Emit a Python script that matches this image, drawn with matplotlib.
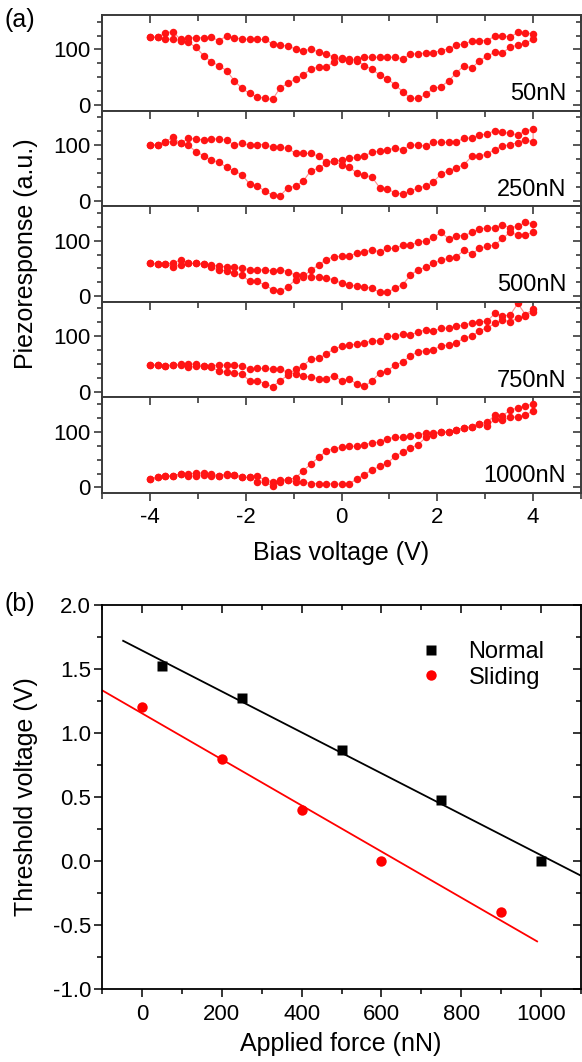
import matplotlib
matplotlib.use("Agg")
import matplotlib.pyplot as plt
from matplotlib.ticker import MultipleLocator, FormatStrFormatter
import numpy as np

plt.rcParams['font.family'] = ['Liberation Sans', 'DejaVu Sans']

# ---------------- data (a) ----------------
bias = [-4.00, -3.84, -3.68, -3.52, -3.36, -3.20, -3.04, -2.88, -2.72, -2.56,
        -2.40, -2.24, -2.08, -1.92, -1.76, -1.60, -1.44, -1.28, -1.12, -0.96,
        -0.80, -0.64, -0.48, -0.32, -0.16, 0.00, 0.16, 0.32, 0.48, 0.64,
        0.80, 0.96, 1.12, 1.28, 1.44, 1.60, 1.76, 1.92, 2.08, 2.24,
        2.40, 2.56, 2.72, 2.88, 3.04, 3.20, 3.36, 3.52, 3.68, 3.84, 4.00]

panel_labels = ['50nN', '250nN', '500nN', '750nN', '1000nN']

# forward sweep (-4 -> 4) and backward sweep (values listed from -4 to 4)
fwd_50 = [122,122,130,132,118,121,121,121,122,116, 124,121,119,118,118,118,110,108,106,101,
          98,100,96,92,86,83,82,80,71,64, 54,47,36,24,12,12,19,30,33,44,
          58,71,66,80,88,95,94,104,108,112,118]
bwd_50 = [122,122,119,118,116,113,104,89,78,71, 62,44,30,21,15,12,10,31,39,47,
          54,65,68,68,78,84,80,83,86,86, 86,86,86,83,92,92,94,94,98,101,
          108,110,115,116,116,124,125,122,131,130,128]

fwd_250 = [100,100,106,114,103,112,111,109,111,111, 109,100,103,100,101,101,96,96,94,85,
           85,85,80,70,71,65,60,50,46,42, 23,21,14,12,17,23,26,34,48,54,
           59,65,80,80,84,92,98,101,104,110,105]
bwd_250 = [100,100,106,106,103,100,88,81,73,69, 60,53,47,30,27,17,10,9,23,26,
           35,54,58,67,71,73,76,78,81,87, 89,92,94,92,100,100,98,106,105,105,
           106,112,113,118,120,126,123,121,118,126,128]

fwd_500 = [60,58,58,60,65,59,59,58,56,54, 53,52,50,48,48,47,46,48,44,38,
           38,35,35,32,30,23,21,18,17,14, 7,7,15,21,38,48,52,59,65,68,
           71,83,76,86,90,92,104,115,110,110,115]
bwd_500 = [60,58,58,53,56,59,59,58,52,47, 46,41,38,27,27,20,12,9,17,30,
           35,47,56,66,71,72,72,78,80,83, 80,86,86,92,92,97,100,106,115,103,
           109,109,115,121,123,123,129,123,126,133,130]

fwd_750 = [48,48,47,48,50,50,50,46,47,48, 48,48,46,41,42,42,41,41,35,32,
           29,26,24,24,29,20,23,14,10,20, 34,38,48,54,65,72,74,76,83,84,
           88,97,100,110,115,123,129,126,133,137,144]
bwd_750 = [48,48,47,48,48,44,46,46,44,38, 35,34,32,20,20,15,9,20,30,41,
           47,59,60,68,77,82,84,86,88,92, 92,100,100,104,103,107,112,110,114,115,
           118,120,124,126,127,141,137,138,159,139,149]

fwd_1000 = [15,18,20,21,24,20,21,23,21,21, 23,23,18,18,20,14,10,14,14,9,
            10,7,7,7,6,6,7,15,23,32, 38,44,56,64,71,77,90,94,100,100,
            104,107,109,115,110,123,121,126,127,130,138]
bwd_1000 = [15,18,20,21,24,24,26,26,24,21, 24,23,18,18,10,9,3,9,14,17,
            30,42,54,65,70,72,74,74,77,80, 82,88,90,90,92,94,98,98,100,100,
            104,107,109,115,117,130,129,139,143,147,150]

forward = [fwd_50, fwd_250, fwd_500, fwd_750, fwd_1000]
backward = [bwd_50, bwd_250, bwd_500, bwd_750, bwd_1000]

# ---------------- data (b) ----------------
normal_force = [50, 250, 500, 750, 1000]
normal_vth = [1.52, 1.27, 0.87, 0.48, 0.0]
sliding_force = [0, 200, 400, 600, 900]
sliding_vth = [1.2, 0.8, 0.4, 0.0, -0.4]
normal_fit = [1.645, -0.0016]      # intercept, slope
normal_fit_range = [-47, 1100]
sliding_fit = [1.154, -0.0018]
sliding_fit_range = [-100, 990]

# ---------------- figure ----------------
W, H = 582, 1062
fig = plt.figure(figsize=(W / 100, H / 100), dpi=100)

def fx(px):
    return px / W

def fy(py):
    return 1 - py / H

left_px, right_px = 102, 581
a_top, a_bot = 15, 493
ph = (a_bot - a_top) / 5.0

tick_fs = 16
label_fs = 18
spine_col = '#3a3a3a'
dot_col = '#ff1414'
line_col = '#ff8c8c'

axes_a = []
for k in range(5):
    top = a_top + k * ph
    bot = top + ph
    ax = fig.add_axes([fx(left_px), fy(bot), fx(right_px - left_px), ph / H])
    axes_a.append(ax)
    xs = bias + bias[::-1]
    ys = forward[k] + backward[k][::-1]
    ax.plot(xs, ys, '-', color=line_col, lw=0.8, zorder=1)
    ax.plot(xs, ys, 'o', color=dot_col, ms=5.4, mec='none', zorder=2)
    ax.set_xlim(-5, 5)
    ax.set_ylim(-10, 162)
    ax.xaxis.set_major_locator(MultipleLocator(2))
    ax.xaxis.set_minor_locator(MultipleLocator(1))
    ax.yaxis.set_major_locator(MultipleLocator(100))
    ax.yaxis.set_minor_locator(MultipleLocator(25))
    for s in ax.spines.values():
        s.set_color(spine_col)
        s.set_linewidth(1.4)
    ax.tick_params(axis='y', which='both', left=True, right=True,
                   labelleft=True, labelright=False, direction='out',
                   color=spine_col, width=1.2, labelsize=tick_fs, pad=2)
    ax.tick_params(axis='y', which='major', length=6)
    ax.tick_params(axis='y', which='minor', length=3.5)
    for t in ax.yaxis.get_major_ticks() + ax.yaxis.get_minor_ticks():
        t.tick2line.set_marker(0)  # right ticks pointing inward
    if k == 4:
        ax.tick_params(axis='x', which='both', bottom=True, top=True,
                       labelbottom=True, direction='out', color=spine_col,
                       width=1.2, labelsize=tick_fs, pad=4)
        ax.tick_params(axis='x', which='major', length=6)
        ax.tick_params(axis='x', which='minor', length=4)
        for t in ax.xaxis.get_major_ticks() + ax.xaxis.get_minor_ticks():
            t.tick2line.set_marker(3)  # top ticks pointing inward
    else:
        ax.tick_params(axis='x', which='both', bottom=False, top=True,
                       labelbottom=False, direction='in', color=spine_col,
                       width=1.2)
        ax.tick_params(axis='x', which='major', length=6)
        ax.tick_params(axis='x', which='minor', length=4)
    ax.text(0.969, 0.11, panel_labels[k], transform=ax.transAxes,
            ha='right', va='baseline', fontsize=17)

axes_a[4].set_xticks([-4, -2, 0, 2, 4])
axes_a[4].set_xticklabels(['-4', '-2', '0', '2', '4'])

fig.text(fx(341.5), fy(553), 'Bias voltage (V)', ha='center', va='center', fontsize=label_fs)
fig.text(fx(26), fy(254), 'Piezoresponse (a.u.)', ha='center', va='center',
         rotation=90, fontsize=label_fs)
fig.text(fx(5), fy(20), '(a)', ha='left', va='center', fontsize=label_fs)

# ---------------- panel (b) ----------------
b_top, b_bot = 605, 989
axb = fig.add_axes([fx(left_px), fy(b_bot), fx(right_px - left_px), (b_bot - b_top) / H])
xn = np.array(normal_fit_range, dtype=float)
xsl = np.array(sliding_fit_range, dtype=float)
axb.plot(xn, normal_fit[0] + normal_fit[1] * xn, '-', color='black', lw=1.3, zorder=1)
axb.plot(xsl, sliding_fit[0] + sliding_fit[1] * xsl, '-', color='#ff0000', lw=1.3, zorder=1)
axb.plot(normal_force, normal_vth, 's', color='black', ms=6.5, mec='none',
         ls='none', label='Normal', zorder=3)
axb.plot(sliding_force, sliding_vth, 'o', color='#ff0000', ms=7.5, mec='none',
         ls='none', label='Sliding', zorder=3)
axb.set_xlim(-100, 1100)
axb.set_ylim(-1.0, 2.0)
axb.xaxis.set_major_locator(MultipleLocator(200))
axb.xaxis.set_minor_locator(MultipleLocator(100))
axb.yaxis.set_major_locator(MultipleLocator(0.5))
axb.yaxis.set_minor_locator(MultipleLocator(0.25))
axb.yaxis.set_major_formatter(FormatStrFormatter('%.1f'))
for s in axb.spines.values():
    s.set_color('black')
    s.set_linewidth(1.3)
axb.tick_params(which='both', direction='out', top=True, right=True,
                labelsize=tick_fs, width=1.1)
axb.tick_params(which='major', length=6)
axb.tick_params(which='minor', length=3.5)
axb.tick_params(axis='x', pad=5)
axb.tick_params(axis='y', pad=2)
for t in axb.yaxis.get_major_ticks() + axb.yaxis.get_minor_ticks():
    t.tick2line.set_marker(0)
for t in axb.xaxis.get_major_ticks() + axb.xaxis.get_minor_ticks():
    t.tick2line.set_marker(3)
axb.set_xticks([0, 200, 400, 600, 800, 1000])

axb.legend(loc='upper left',
           bbox_to_anchor=((419 - left_px) / (right_px - left_px),
                           1 - (641 - b_top) / (b_bot - b_top)),
           frameon=False, fontsize=17, handlelength=1.0, handletextpad=1.1,
           labelspacing=0.15, borderaxespad=0, borderpad=0, numpoints=1)

fig.text(fx(341), fy(1044), 'Applied force (nN)', ha='center', va='center', fontsize=label_fs)
fig.text(fx(26), fy(797), 'Threshold voltage (V)', ha='center', va='center',
         rotation=90, fontsize=label_fs)
fig.text(fx(5), fy(604), '(b)', ha='left', va='center', fontsize=label_fs)

fig.savefig('out.png', dpi=100)
